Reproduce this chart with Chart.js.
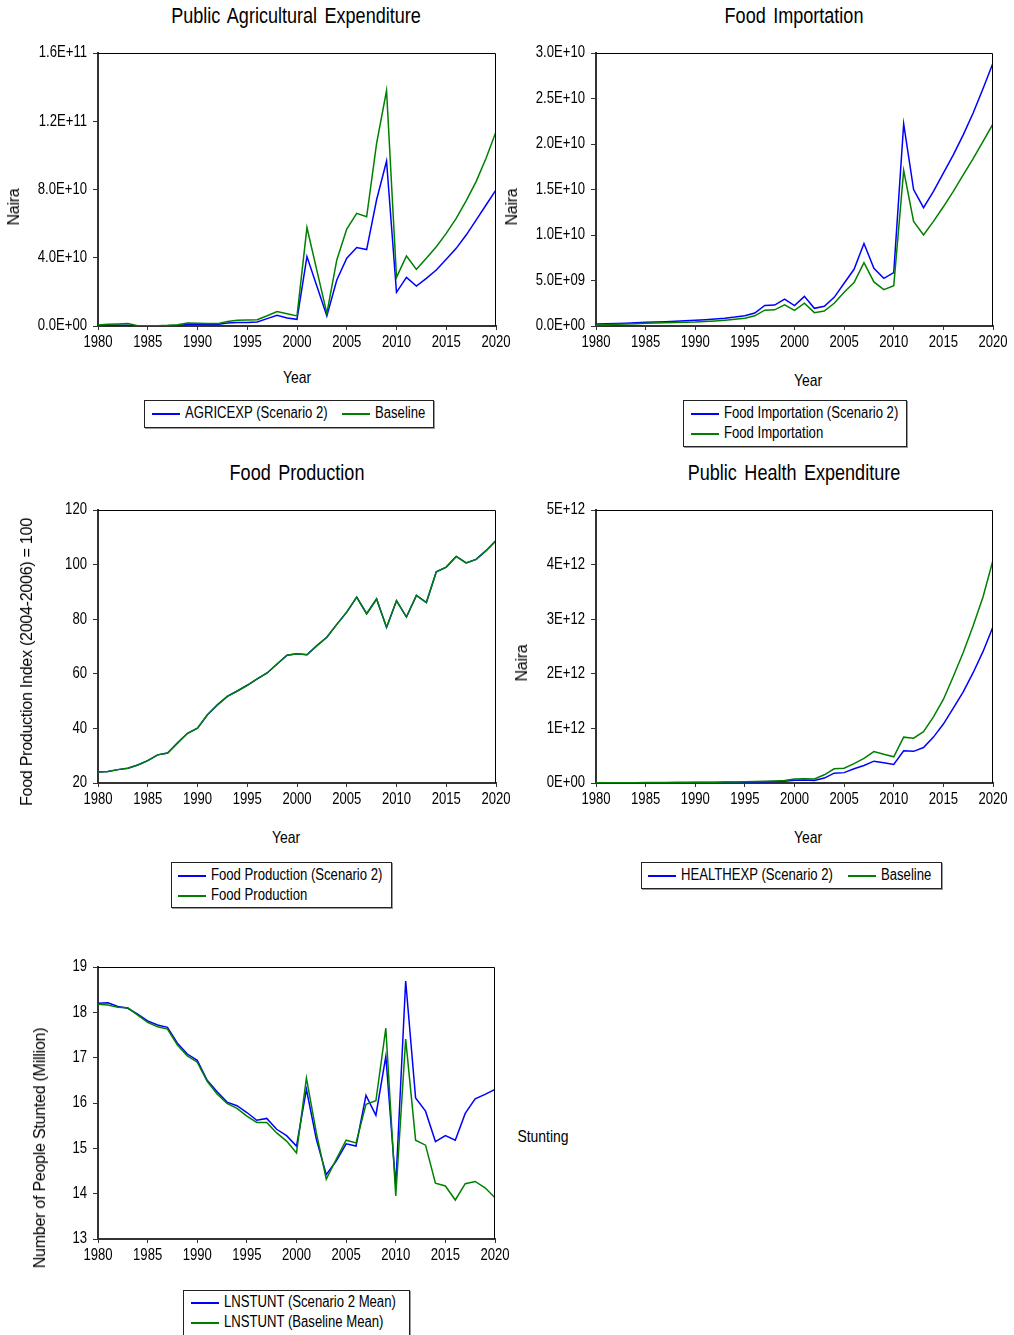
<!DOCTYPE html>
<html>
<head>
<meta charset="utf-8">
<script src="https://cdn.jsdelivr.net/npm/chart.js@4.4.0/dist/chart.umd.min.js"></script>
<style>
  body { margin: 0; background: #fff; }
  #page { position: relative; width: 1014px; height: 1335px; overflow: hidden; background: #fff; }
  canvas { position: absolute; }
  .txt { position: absolute; white-space: nowrap; color: #000; transform: translate(-50%, -50%) scaleX(0.82);
         font-family: "Liberation Sans", Arial, sans-serif; }
  .title { font-size: 22px; word-spacing: 3px; }
  .xt { font-size: 17px; }
  .yt { font-size: 16px; letter-spacing: -0.25px; transform: translate(-50%, -50%) rotate(-90deg); }
  .legend { position: absolute; border: 1px solid #222; box-shadow: 1px 1px 0 #999; background: #fff;
            font-family: "Liberation Sans", Arial, sans-serif; font-size: 16px; line-height: 20px; }
  .legend .it { position: absolute; white-space: nowrap; }
  .legend .ln { position: absolute; left: 0; top: 10px; width: 28px; height: 2px; }
  .legend .lt { position: absolute; left: 33px; top: 0; display: inline-block; transform: scaleX(0.82); transform-origin: 0 50%; }
</style>
</head>
<body>
<div id="page"></div>
<script>
// years on the x axis
var years = [1980,1981,1982,1983,1984,1985,1986,1987,1988,1989,
             1990,1991,1992,1993,1994,1995,1996,1997,1998,1999,
             2000,2001,2002,2003,2004,2005,2006,2007,2008,2009,
             2010,2011,2012,2013,2014,2015,2016,2017,2018,2019,2020];

// Public Agricultural Expenditure (Naira)
var agriScenario = [0.2e9,0.4e9,0.4e9,0.4e9,0.05e9,0.05e9,0.05e9,0.1e9,0.2e9,1.0e9,
                    1.0e9,0.9e9,0.9e9,1.8e9,2.0e9,2.1e9,2.3e9,4.3e9,6.3e9,4.7e9,
                    3.9e9,40.7e9,23.3e9,5.9e9,27e9,39.7e9,46e9,44.8e9,74e9,96.7e9,
                    19.7e9,28.5e9,23.4e9,27.9e9,32.8e9,39.1e9,45.5e9,53.3e9,62.1e9,70.9e9,79.7e9];
var agriBaseline = [0.6e9,1.0e9,1.2e9,1.4e9,0.2e9,0.2e9,0.2e9,0.4e9,0.8e9,1.8e9,
                    1.6e9,1.4e9,1.4e9,2.7e9,3.3e9,3.5e9,3.7e9,6.0e9,8.5e9,7.2e9,
                    5.9e9,57.7e9,32.5e9,7.4e9,38.7e9,56.8e9,66e9,64e9,107e9,138e9,
                    28.5e9,41.0e9,33.2e9,39.7e9,46.5e9,54.3e9,63.1e9,73.3e9,84.6e9,98.3e9,113.9e9];

// Food Importation (Naira)
var importScenario = [0.22e9,0.25e9,0.28e9,0.31e9,0.35e9,0.40e9,0.44e9,0.48e9,0.52e9,0.57e9,
                      0.62e9,0.69e9,0.77e9,0.86e9,0.98e9,1.13e9,1.42e9,2.25e9,2.30e9,2.95e9,
                      2.24e9,3.26e9,1.94e9,2.16e9,3.15e9,4.7e9,6.23e9,9.06e9,6.34e9,5.24e9,
                      5.87e9,22.2e9,15.0e9,13.0e9,14.8e9,16.8e9,18.8e9,21.0e9,23.4e9,26.1e9,28.9e9];
var importBaseline = [0.12e9,0.15e9,0.18e9,0.21e9,0.25e9,0.29e9,0.32e9,0.35e9,0.38e9,0.41e9,
                      0.44e9,0.50e9,0.56e9,0.64e9,0.74e9,0.86e9,1.12e9,1.74e9,1.78e9,2.33e9,
                      1.72e9,2.5e9,1.47e9,1.65e9,2.5e9,3.7e9,4.77e9,6.97e9,4.84e9,4.0e9,
                      4.43e9,17.1e9,11.5e9,10.0e9,11.5e9,13.1e9,14.8e9,16.6e9,18.4e9,20.3e9,22.2e9];

// Food Production Index (2004-2006 = 100)
var prodScenario = [24.0,24.2,24.9,25.4,26.6,28.2,30.3,31.0,34.7,38.2,
                    40.1,45.0,48.6,51.7,53.7,55.8,58.1,60.3,63.6,66.8,
                    67.3,67.0,70.3,73.4,78.1,82.6,88.1,82.0,87.4,77.0,
                    86.8,80.8,88.7,86.1,97.4,99.1,103.0,100.6,101.9,105.1,108.8];
var prodBaseline = [24.0,24.2,24.9,25.4,26.6,28.2,30.3,31.0,34.7,38.2,
                    40.1,45.0,48.6,51.7,53.7,55.8,58.1,60.3,63.6,66.8,
                    67.3,67.0,70.3,73.4,78.1,82.6,88.1,82.0,87.4,77.0,
                    86.8,80.8,88.7,86.1,97.4,99.1,103.0,100.6,101.9,105.1,108.8];

// Public Health Expenditure (Naira)
var healthScenario = [0.003e12,0.003e12,0.004e12,0.004e12,0.004e12,0.005e12,0.005e12,0.006e12,0.007e12,0.008e12,
                      0.009e12,0.010e12,0.011e12,0.012e12,0.014e12,0.016e12,0.019e12,0.022e12,0.026e12,0.031e12,
                      0.050e12,0.055e12,0.045e12,0.090e12,0.180e12,0.190e12,0.260e12,0.320e12,0.400e12,0.370e12,
                      0.340e12,0.590e12,0.580e12,0.650e12,0.840e12,1.08e12,1.37e12,1.67e12,2.02e12,2.41e12,2.86e12];
var healthBaseline = [0.004e12,0.005e12,0.005e12,0.006e12,0.006e12,0.007e12,0.008e12,0.009e12,0.010e12,0.011e12,
                      0.013e12,0.014e12,0.016e12,0.018e12,0.020e12,0.024e12,0.028e12,0.032e12,0.038e12,0.045e12,
                      0.073e12,0.080e12,0.075e12,0.150e12,0.260e12,0.270e12,0.355e12,0.450e12,0.575e12,0.525e12,
                      0.480e12,0.840e12,0.820e12,0.940e12,1.21e12,1.53e12,1.95e12,2.39e12,2.88e12,3.41e12,4.08e12];

// Number of people stunted (million)
var stuntScenario = [18.20,18.21,18.13,18.09,17.96,17.81,17.72,17.67,17.32,17.08,
                     16.94,16.50,16.25,16.02,15.94,15.79,15.62,15.66,15.42,15.28,
                     15.05,16.30,15.20,14.42,14.72,15.10,15.05,16.17,15.73,17.03,
                     14.17,18.69,16.11,15.82,15.15,15.28,15.18,15.77,16.09,16.19,16.30];
var stuntBaseline = [18.18,18.16,18.11,18.10,17.94,17.78,17.68,17.63,17.28,17.04,
                     16.90,16.48,16.20,15.99,15.88,15.71,15.57,15.57,15.34,15.16,
                     14.90,16.55,15.34,14.32,14.76,15.18,15.12,15.97,16.05,17.65,
                     13.95,17.41,15.18,15.07,14.23,14.17,13.86,14.22,14.27,14.13,13.91];

var BLUE = 'rgb(0,0,255)';
var GREEN = 'rgb(0,128,0)';

Chart.defaults.font.family = '"Liberation Sans", Arial, sans-serif';
Chart.defaults.font.size = 16;
Chart.defaults.color = '#000';
Chart.defaults.animation = false;

var page = document.getElementById('page');

function sci(v, d) {
  var s = Number(v).toExponential(d).toUpperCase();
  return s.replace(/E([+-])(\d)$/, function (m, sg, dg) { return 'E' + sg + '0' + dg; });
}

function pts(vals) {
  return years.map(function (y, i) { return { x: y, y: vals[i] }; });
}

// no narrow font installed, so squeeze the canvas text horizontally
function narrowText(ctx) {
  var orig = ctx.fillText;
  ctx.fillText = function (t, x, y, mw) {
    this.save();
    this.translate(x, y);
    this.scale(0.82, 1);
    orig.call(this, t, 0, 0);
    this.restore();
  };
}

// box around the plot area (top and right sides)
var frame = {
  id: 'frame',
  afterDraw: function (chart) {
    var a = chart.chartArea, c = chart.ctx;
    c.save();
    c.strokeStyle = '#000';
    c.lineWidth = 1;
    c.beginPath();
    c.moveTo(a.left, a.top + 0.5);
    c.lineTo(a.right - 0.5, a.top + 0.5);
    c.lineTo(a.right - 0.5, a.bottom);
    c.stroke();
    c.restore();
  }
};

var YW = 80, PT = 12, PR = 22, XH = 28;

function makeChart(p) {
  var cv = document.createElement('canvas');
  var w = (p.R - p.L) + YW + PR, h = (p.B - p.T) + PT + XH;
  cv.width = w; cv.height = h;
  cv.style.left = (p.L - YW) + 'px';
  cv.style.top = (p.T - PT) + 'px';
  page.appendChild(cv);
  var ctx = cv.getContext('2d');
  narrowText(ctx);
  return new Chart(ctx, {
    type: 'line',
    data: {
      datasets: [
        { label: p.names[0], data: pts(p.blue), borderColor: BLUE, borderWidth: 1.5, pointRadius: 0, order: 1 },
        { label: p.names[1], data: pts(p.green), borderColor: GREEN, borderWidth: 1.5, pointRadius: 0, order: 0 }
      ]
    },
    plugins: [frame],
    options: {
      responsive: false,
      layout: { padding: { top: PT, right: PR, left: 0, bottom: 0 } },
      plugins: { legend: { display: false }, tooltip: { enabled: false } },
      scales: {
        x: {
          type: 'linear', min: 1980, max: 2020,
          border: { color: '#333', width: 2 },
          grid: { drawOnChartArea: false, tickLength: 4, color: '#333' },
          ticks: { stepSize: 5, padding: 3, maxRotation: 0, autoSkip: false, callback: function (v) { return String(v); } },
          afterFit: function (s) { s.height = XH; s.paddingLeft = 0; s.paddingRight = 0; }
        },
        y: {
          min: p.min, max: p.max,
          border: { color: '#333', width: 2 },
          grid: { drawOnChartArea: false, tickLength: 5, color: '#333' },
          ticks: { stepSize: p.step, padding: 6, callback: p.fmt },
          afterFit: function (s) { s.width = YW; s.paddingTop = 0; s.paddingBottom = 0; }
        }
      }
    }
  });
}

function addText(cls, text, x, y) {
  var d = document.createElement('div');
  d.className = 'txt ' + cls;
  d.textContent = text;
  d.style.left = x + 'px';
  d.style.top = y + 'px';
  page.appendChild(d);
}

function addLegend(box, items) {
  var d = document.createElement('div');
  d.className = 'legend';
  d.style.left = box[0] + 'px'; d.style.top = box[1] + 'px';
  d.style.width = box[2] + 'px'; d.style.height = box[3] + 'px';
  items.forEach(function (it) {
    var s = document.createElement('div');
    s.className = 'it';
    s.style.left = it.x + 'px';
    s.style.top = it.y + 'px';
    var ln = document.createElement('span');
    ln.className = 'ln';
    ln.style.background = it.c;
    var lt = document.createElement('span');
    lt.className = 'lt';
    lt.textContent = it.t;
    s.appendChild(ln);
    s.appendChild(lt);
    d.appendChild(s);
  });
  page.appendChild(d);
}

// 1. Public Agricultural Expenditure
makeChart({ L: 98, T: 53, R: 496, B: 326, min: 0, max: 1.6e11, step: 4e10,
  fmt: function (v) { return sci(v, 1); },
  blue: agriScenario, green: agriBaseline, names: ['AGRICEXP (Scenario 2)', 'Baseline'] });
addText('title', 'Public Agricultural Expenditure', 296, 16);
addText('xt', 'Year', 297, 378);
addText('yt', 'Naira', 14, 207);
addLegend([144, 400, 288, 26], [
  { x: 7, y: 2, c: BLUE, t: 'AGRICEXP (Scenario 2)' },
  { x: 197, y: 2, c: GREEN, t: 'Baseline' }
]);

// 2. Food Importation
makeChart({ L: 596, T: 53, R: 993, B: 326, min: 0, max: 3.0e10, step: 5e9,
  fmt: function (v) { return sci(v, 1); },
  blue: importScenario, green: importBaseline, names: ['Food Importation (Scenario 2)', 'Food Importation'] });
addText('title', 'Food Importation', 794, 16);
addText('xt', 'Year', 808, 381);
addText('yt', 'Naira', 512, 207);
addLegend([683, 400, 222, 45], [
  { x: 7, y: 2, c: BLUE, t: 'Food Importation (Scenario 2)' },
  { x: 7, y: 22, c: GREEN, t: 'Food Importation' }
]);

// 3. Food Production
makeChart({ L: 98, T: 510, R: 496, B: 783, min: 20, max: 120, step: 20,
  fmt: function (v) { return String(v); },
  blue: prodScenario, green: prodBaseline, names: ['Food Production (Scenario 2)', 'Food Production'] });
addText('title', 'Food Production', 297, 473);
addText('xt', 'Year', 286, 838);
addText('yt', 'Food Production Index (2004-2006) = 100', 27, 662);
addLegend([171, 862, 219, 44], [
  { x: 6, y: 2, c: BLUE, t: 'Food Production (Scenario 2)' },
  { x: 6, y: 22, c: GREEN, t: 'Food Production' }
]);

// 4. Public Health Expenditure
makeChart({ L: 596, T: 510, R: 993, B: 783, min: 0, max: 5e12, step: 1e12,
  fmt: function (v) { return sci(v, 0); },
  blue: healthScenario, green: healthBaseline, names: ['HEALTHEXP (Scenario 2)', 'Baseline'] });
addText('title', 'Public Health Expenditure', 794, 473);
addText('xt', 'Year', 808, 838);
addText('yt', 'Naira', 522, 663);
addLegend([641, 862, 299, 25], [
  { x: 6, y: 2, c: BLUE, t: 'HEALTHEXP (Scenario 2)' },
  { x: 206, y: 2, c: GREEN, t: 'Baseline' }
]);

// 5. Stunting
makeChart({ L: 98, T: 967, R: 495, B: 1239, min: 13, max: 19, step: 1,
  fmt: function (v) { return String(v); },
  blue: stuntScenario, green: stuntBaseline, names: ['LNSTUNT (Scenario 2 Mean)', 'LNSTUNT (Baseline Mean)'] });
addText('xt', 'Stunting', 543, 1137);
addText('yt', 'Number of People Stunted (Million)', 40, 1148);
addLegend([183, 1290, 225, 48], [
  { x: 7, y: 1, c: BLUE, t: 'LNSTUNT (Scenario 2 Mean)' },
  { x: 7, y: 21, c: GREEN, t: 'LNSTUNT (Baseline Mean)' }
]);
</script>
</body>
</html>
